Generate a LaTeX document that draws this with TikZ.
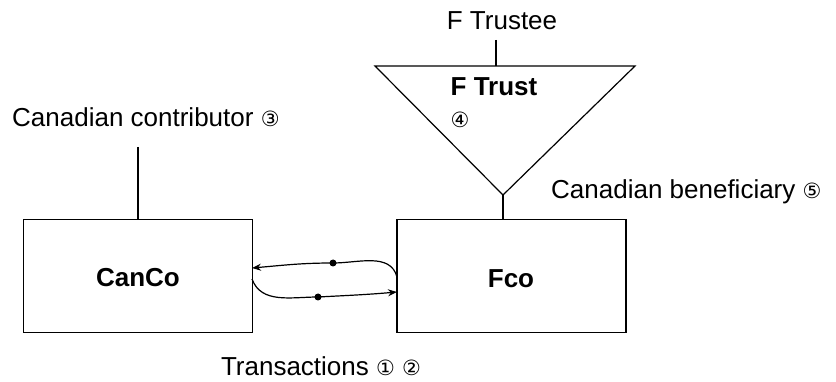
\documentclass[tikz,border=0pt]{standalone}
\usepackage{fontspec}
\setmainfont{Liberation Sans}
\newfontfamily\circfont{DejaVu Sans}
\usetikzlibrary{arrows.meta}
\newcommand{\circnum}[1]{{\circfont\fontsize{21}{21}\selectfont #1}}
\begin{document}
\begin{tikzpicture}[x=1pt,y=-1pt,
  lbl/.style={font=\fontsize{26}{28}\selectfont, inner sep=0pt},
  blbl/.style={font=\fontsize{26}{28}\selectfont\bfseries, inner sep=0pt},
  entity/.style={draw, line width=1.4pt, minimum width=229pt, minimum height=113pt, inner sep=0pt},
  wire/.style={line width=1.2pt},
  flow/.style={line width=1.2pt, -{Stealth[length=9pt,width=7pt]}},
  dotmark/.style={circle, fill, inner sep=0pt, minimum size=7pt}]
\useasboundingbox (0,0) rectangle (836,382);

% companies
\node[entity] (canco) at (138,276) {};
\node[blbl] at (138,278) {CanCo};
\node[entity] (fco) at (511.5,276) {};
\node[blbl] at (511,279) {Fco};

% the trust, drawn as an inverted triangle
\coordinate (tl) at (375,66);
\coordinate (tr) at (635,66);
\coordinate (apex) at (503,195);
\draw[wire, line join=miter] (tl) -- (tr) -- (apex) -- cycle;
\node[blbl] (trust) at (494,87) {F Trust};
\node[inner sep=0pt] (four) at (460,120) {\circnum{④}};

% trustee
\node[lbl] (trustee) at (502,21) {F Trustee};
\coordinate (trtop) at (496,40);
\coordinate (trbot) at (496,66);
\draw[wire] (trtop) -- (trbot);

% beneficiary link
\draw[wire] (apex) -- (apex |- fco.north);
\node[lbl, anchor=west] (benef) at (551,192) {Canadian beneficiary \circnum{⑤}};

% contributor
\node[lbl, anchor=west] (contrib) at (12,117) {Canadian contributor \circnum{③}};
\coordinate (ctop) at (138,147);
\draw[wire] (ctop) -- (canco.north);

% transactions
\node[dotmark] (d1) at (333,263) {};
\node[dotmark] (d2) at (318,297) {};
\coordinate (fout) at (397,277);
\coordinate (cin) at (252,268);
\coordinate (cout) at (252,279);
\coordinate (fin) at (397,292);
\draw[flow] (fout) to[out=105,in=0] (d1.center) to[out=180,in=5] (cin);
\draw[flow] (cout) to[out=-70,in=180] (d2.center) to[out=3,in=185] (fin);

\node[lbl] (trans) at (321,366) {Transactions \circnum{①} \circnum{②}};
\end{tikzpicture}
\end{document}
